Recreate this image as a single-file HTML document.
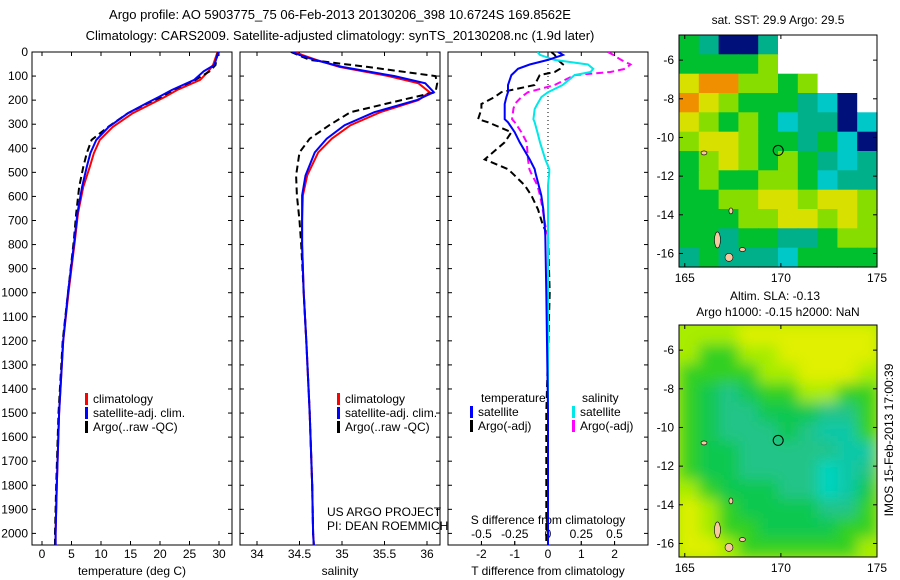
<!DOCTYPE html>
<html><head><meta charset="utf-8"><style>
body{margin:0;background:#fff;}
svg{display:block;font-family:"Liberation Sans",sans-serif;}
text{font-size:12px;fill:#000;}
</style></head><body>
<svg id="c" width="900" height="580" viewBox="0 0 900 580" xmlns="http://www.w3.org/2000/svg">
<defs>
<clipPath id="cp1"><rect x="32" y="52" width="200" height="493"/></clipPath>
<clipPath id="cp2"><rect x="240" y="52" width="200" height="493"/></clipPath>
<clipPath id="cp3"><rect x="448" y="52" width="200" height="493"/></clipPath>
<clipPath id="cpm2"><rect x="679" y="325" width="198" height="232"/></clipPath>
<filter id="bl" x="0" y="0" width="1" height="1"><feGaussianBlur stdDeviation="7"/></filter>
</defs>
<text x="340" y="19" text-anchor="middle" style="font-size:13px">Argo profile: AO 5903775_75 06-Feb-2013 20130206_398 10.6724S 169.8562E</text>
<text x="340" y="40" text-anchor="middle" style="font-size:13px">Climatology: CARS2009. Satellite-adjusted climatology: synTS_20130208.nc (1.9d later)</text>
<g id="g"></g>
<text x="893" y="440" transform="rotate(-90 893 440)" text-anchor="middle">IMOS 15-Feb-2013 17:00:39</text>
</svg>
<script>
// ---- profile data ----
const tDepth=[0,4,25,54,80,116,158,187,212,254,311,365,420,477,560,670,780,1000,1200,1500,1800,2000,2060];
const tClim=[29.8,29.7,29.4,29.0,28.2,26.8,22.9,20.8,18.8,15.4,12.0,9.8,8.8,8.1,7.0,6.1,5.6,4.5,3.6,2.9,2.5,2.3,2.3];
const tSat=[30.0,29.9,29.6,29.2,27.4,25.8,22.0,19.8,17.8,14.6,11.3,9.2,8.2,7.6,6.8,6.0,5.5,4.4,3.6,2.9,2.5,2.3,2.3];
const tArgo=[30.0,29.8,29.6,29.4,28.4,26.0,22.2,20.2,18.0,14.6,11.2,8.4,7.6,7.0,6.3,5.8,5.4,4.4,3.5,2.8,2.4,2.2,2.2];
const sDepth=[0,12,33,62,100,130,167,200,250,304,360,417,513,596,700,800,1000,1200,1500,1800,2000,2060];
const sClim=[34.45,34.53,34.7,34.97,35.55,35.9,36.03,35.9,35.45,35.1,34.88,34.72,34.59,34.54,34.53,34.53,34.55,34.58,34.62,34.65,34.66,34.67];
const sSat=[34.42,34.5,34.68,35.0,35.62,35.98,36.08,35.88,35.38,35.03,34.82,34.68,34.57,34.53,34.53,34.53,34.55,34.58,34.62,34.65,34.66,34.67];
const sArgo=[34.4,34.48,34.62,35.3,36.1,36.12,36.1,35.7,35.1,34.85,34.62,34.5,34.46,34.47,34.5,34.52,34.55,34.58,34.62,34.65,34.66,34.67];
const dDepth=[0,12,33,52,70,83,96,137,167,187,216,237,279,292,333,375,446,487,500,554,596,625,654,721,763,1000,1500,2000,2060];
const dTSat=[0.3,0.45,0.0,-0.55,-0.9,-1.0,-1.1,-1.2,-1.2,-1.25,-1.3,-1.3,-1.3,-1.2,-1.0,-0.85,-0.55,-0.4,-0.38,-0.28,-0.2,-0.17,-0.14,-0.1,-0.08,-0.05,0.0,0.0,0.0];
const dTArgo=[0.1,0.2,0.3,0.45,0.36,0.2,-0.25,-0.4,-1.4,-1.6,-2.0,-2.0,-2.1,-1.8,-1.1,-1.3,-1.9,-1.2,-1.1,-0.7,-0.5,-0.4,-0.3,-0.15,0.0,0.05,-0.05,-0.05,-0.05];
const dSSat=[-0.08,-0.06,0.05,0.3,0.34,0.32,0.2,0.11,0.0,-0.05,-0.08,-0.1,-0.11,-0.1,-0.08,-0.06,-0.02,0.01,0.01,0.0,0.0,0.0,0.0,0.0,0.0,0.0,0.0,0.0,0.0];
const dSArgo=[0.45,0.49,0.55,0.62,0.58,0.47,0.2,0.05,-0.15,-0.2,-0.25,-0.26,-0.27,-0.25,-0.2,-0.16,-0.15,-0.14,-0.13,-0.08,-0.06,-0.05,-0.04,-0.02,0.0,0.0,0.0,0.0,0.0];
const depthTicks=[0,100,200,300,400,500,600,700,800,900,1000,1100,1200,1300,1400,1500,1600,1700,1800,1900,2000];
const tTicks=[0,5,10,15,20,25,30];
const sTicks=[34,34.5,35,35.5,36];
const dTTicks=[-2,-1,0,1,2];
const dSTicks=[-0.5,-0.25,0,0.25,0.5];
// ---- map data ----
const sstRows=["gtbbtWWWWW","gggglWWWWW","yoollglWWW","oylgggtcbW","ylglgcttbc","lyylggtgcb","glylglgtct","glggllgctt","ggllyylyyl","gggllyylyl","ggtggttgll","tgtttcgggg"];
const slaRows=["LLLYYYYYYY","LGGLLYYYYY","GGGGLLYYYL","GgtgGGLLGG","GgttgggttG","GgtttgtccG","Gggtttttcc","GggttttCct","LGgggttCcg","YLGggggttG","YLGGggggGG","YYLGGGGGGL"];
const sstCol={W:"#ffffff",b:"#00107a",B:"#0060e0",c:"#00c8c8",t:"#00b08a",g:"#00c030",l:"#88dd00",y:"#d8e000",o:"#f09000"};
const slaCol={Y:"#e0f000",L:"#a8ec00",G:"#30d020",g:"#10c850",t:"#20c488",c:"#10c8a8",C:"#00d4c0"};
const argoLon=169.86, argoLat=-10.67;
const lonTicks=[165,170,175];
const latTicks=[-6,-8,-10,-12,-14,-16];

const NS="http://www.w3.org/2000/svg";
const G=document.getElementById('g');
function mk(tag,attrs,parent){const e=document.createElementNS(NS,tag);for(const k in attrs)e.setAttribute(k,attrs[k]);(parent||G).appendChild(e);return e;}
function txt(x,y,s,anchor,size){const e=mk('text',{x:x,y:y,'text-anchor':anchor||'start'});if(size)e.style.fontSize=size+'px';e.textContent=s;return e;}
const yD=d=>52+d*0.2407;
const xT=t=>42+t*5.9;
const xS=s=>257+(s-34)*85;
const xDT=v=>548+v*33.3;
const xDS=v=>548+v*133;

function frame(x,name){const r=mk('rect',{x:x,y:52,width:200,height:493,fill:'none',stroke:'#000','stroke-width':1});

}
function line(xs,ds,xf,color,dash,clip,name,w){
  const pts=xs.map((v,i)=>xf(v).toFixed(1)+','+yD(ds[i]).toFixed(1)).join(' ');
  const p=mk('polyline',{points:pts,fill:'none',stroke:color,'stroke-width':w||2,'clip-path':'url(#'+clip+')'});
  if(dash)p.setAttribute('stroke-dasharray',dash);
  
  
}
frame(32,'temperature-panel');frame(240,'salinity-panel');frame(448,'difference-panel');
depthTicks.forEach(d=>{const y=yD(d);
  const t=txt(28,y+4,String(d),'end');
  
  
  [32,240,448].forEach(x=>{mk('line',{x1:x,y1:y,x2:x+4,y2:y,stroke:'#000'});mk('line',{x1:x+200,y1:y,x2:x+196,y2:y,stroke:'#000'});});
});
function xticks(arr,xf,labY){arr.forEach(v=>{const x=xf(v);mk('line',{x1:x,y1:545,x2:x,y2:541,stroke:'#000'});mk('line',{x1:x,y1:52,x2:x,y2:56,stroke:'#000'});
  const t=txt(x,labY,String(v),'middle');
  
  });}
xticks(tTicks,xT,558);xticks(sTicks,xS,558);xticks(dTTicks,xDT,558);
dSTicks.forEach(v=>{const x=xDS(v);mk('line',{x1:x,y1:545,x2:x,y2:541,stroke:'#000'});
  const t=txt(x,538,String(v),'middle');
  
  });
let a;
a=txt(132,575,'temperature (deg C)','middle');
a=txt(340,575,'salinity','middle');
a=txt(548,575,'T difference from climatology','middle');
a=txt(548,524,'S difference from climatology','middle');
a=txt(327,516,'US ARGO PROJECT');
a=txt(327,530,'PI: DEAN ROEMMICH');
mk('line',{x1:548,y1:52,x2:548,y2:545,stroke:'#000','stroke-dasharray':'1,3'});
line(tClim,tDepth,xT,'#ff0000',null,'cp1','temp-climatology-line');
line(tArgo,tDepth,xT,'#000',"7,4",'cp1','temp-argo-line');
line(tSat,tDepth,xT,'#0000ff',null,'cp1','temp-satellite-line');
line(sClim,sDepth,xS,'#ff0000',null,'cp2','sal-climatology-line');
line(sArgo,sDepth,xS,'#000',"7,4",'cp2','sal-argo-line');
line(sSat,sDepth,xS,'#0000ff',null,'cp2','sal-satellite-line');
line(dTArgo,dDepth,xDT,'#000',"7,4",'cp3','tdiff-argo-line');
line(dSArgo,dDepth,xDS,'#ff00ff',"7,4",'cp3','sdiff-argo-line');
line(dSSat,dDepth,xDS,'#00e8e8',null,'cp3','sdiff-satellite-line');
line(dTSat,dDepth,xDT,'#0000ff',null,'cp3','tdiff-satellite-line');
function leg(x,y,color,label,name){mk('rect',{x:x,y:y-10,width:3,height:12,fill:color});const t=txt(x+8,y,label);}
[[85,'temp'],[337,'sal']].forEach(([x0,n])=>{leg(x0,403,'#ff0000','climatology','legend-climatology-'+n);leg(x0,417,'#0000ff','satellite-adj. clim.','legend-satellite-'+n);leg(x0,431,'#000','Argo(..raw -QC)','legend-argo-'+n);});
a=txt(481,402,'temperature');
a=txt(582,402,'salinity');
leg(470,416,'#0000ff','satellite','legend-t-satellite');leg(470,430,'#000','Argo(-adj)','legend-t-argo');
leg(572,416,'#00e8e8','satellite','legend-s-satellite');leg(572,430,'#ff00ff','Argo(-adj)','legend-s-argo');

const M={x:679,w:198,h:232,lon0:164.7,lon1:175.0,lat0:-4.7,lat1:-16.7};
function mx(lon){return M.x+(lon-M.lon0)/(M.lon1-M.lon0)*M.w;}
function my(top,lat){return top+(lat-M.lat0)/(M.lat1-M.lat0)*M.h;}
function drawMap(top,rows,cols,name,blur){
  const gg=mk('g',{});
  
  
  const inner=blur?mk('g',{'clip-path':'url(#cpm2)'},gg):gg;
  const inner2=blur?mk('g',{filter:'url(#bl)'},inner):gg;
  const nr=rows.length,nc=rows[0].length,cw=M.w/nc,ch=M.h/nr;
  if(blur) mk('rect',{x:M.x-20,y:top-20,width:M.w+40,height:M.h+40,fill:cols[rows[0][0]]},inner2);
  rows.forEach((r,i)=>{[...r].forEach((k,j)=>{
    const e=mk('rect',{x:(M.x+j*cw).toFixed(1),y:(top+i*ch).toFixed(1),width:(cw+0.6).toFixed(1),height:(ch+0.6).toFixed(1),fill:cols[k]},inner2);
    
    
  });});
  [[166.7,-15.3,3,8],[167.3,-16.2,4,4],[167.4,-13.8,2,3],[166.0,-10.8,3,2],[168.0,-15.8,3,2]].forEach(([lo,la,rx,ry])=>mk('ellipse',{cx:mx(lo),cy:my(top,la),rx:rx,ry:ry,fill:'#f8c8a0',stroke:'#000','stroke-width':0.6},gg));
  mk('rect',{x:M.x,y:top,width:M.w,height:M.h,fill:'none',stroke:'#000'},gg);
  const c=mk('circle',{cx:mx(argoLon),cy:my(top,argoLat),r:5,fill:'none',stroke:'#000'},gg);
  
  
  lonTicks.forEach(v=>{const x=mx(v);mk('line',{x1:x,y1:top+M.h,x2:x,y2:top+M.h-4,stroke:'#000'},gg);mk('line',{x1:x,y1:top,x2:x,y2:top+4,stroke:'#000'},gg);
    const t=txt(x,top+M.h+15,String(v),'middle');});
  latTicks.forEach(v=>{const y=my(top,v);mk('line',{x1:M.x,y1:y,x2:M.x+4,y2:y,stroke:'#000'},gg);mk('line',{x1:M.x+M.w,y1:y,x2:M.x+M.w-4,y2:y,stroke:'#000'},gg);
    const t=txt(M.x-5,y+4,String(v),'end');});
}
drawMap(35,sstRows,sstCol,'sst-map',false);
drawMap(325,slaRows,slaCol,'sla-map',true);
a=txt(778,24,'sat. SST: 29.9 Argo: 29.5','middle');
a=txt(775,300,'Altim. SLA: -0.13','middle');
a=txt(778,316,'Argo h1000: -0.15 h2000: NaN','middle');
</script>
</body></html>
